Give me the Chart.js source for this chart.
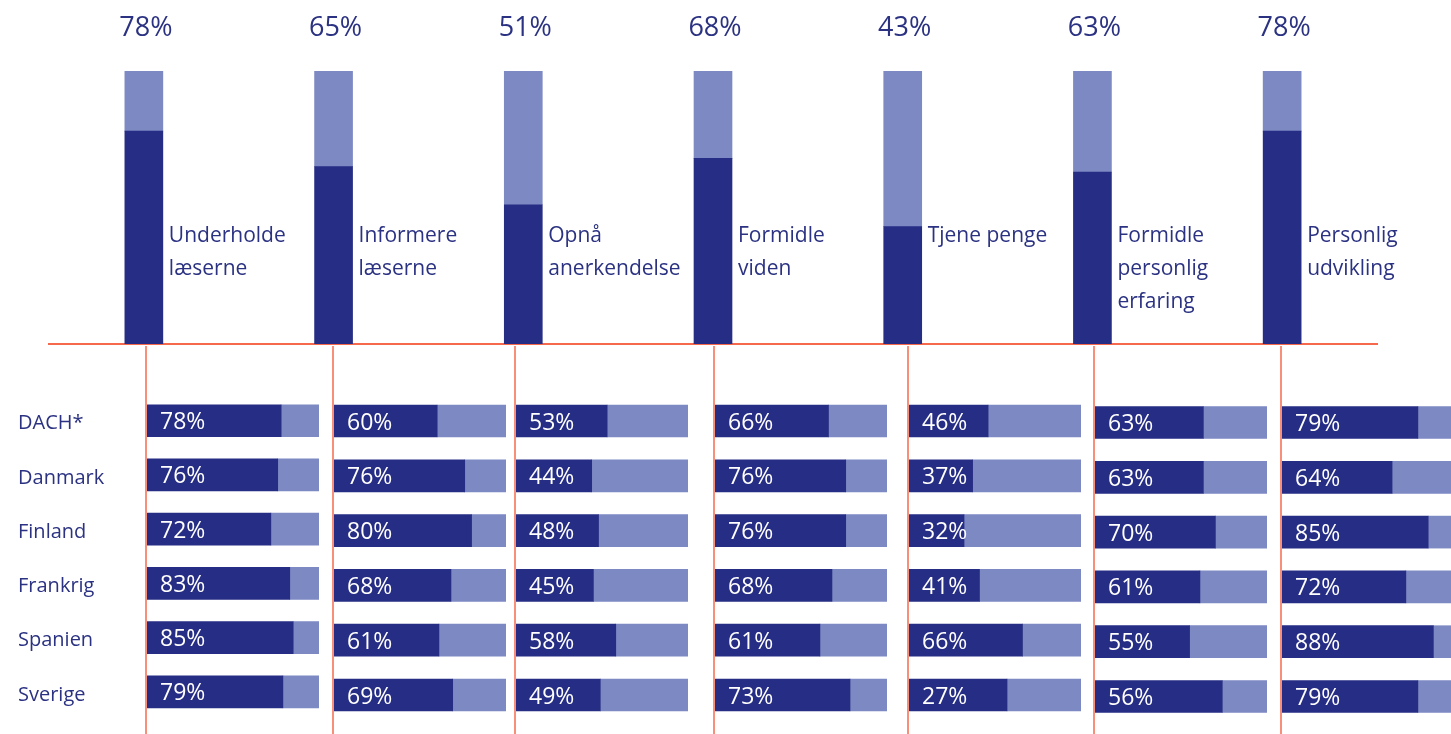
<!DOCTYPE html>
<html>
<head>
<meta charset="utf-8">
<script src="https://cdn.jsdelivr.net/npm/chart.js@4.4.1/dist/chart.umd.min.js"></script>
<style>
  html, body { margin: 0; padding: 0; background: #fff; overflow: hidden; }
  #wrap { position: relative; width: 1451px; height: 734px; }
  canvas { position: absolute; }
</style>
</head>
<body>
<div id="wrap">
  <canvas id="top" width="1451" height="346" style="left:0;top:0"></canvas>
</div>
<script>
// --- data ---
const topics = [
    ["Underholde", "læserne"],
    ["Informere", "læserne"],
    ["Opnå", "anerkendelse"],
    ["Formidle", "viden"],
    ["Tjene penge"],
    ["Formidle", "personlig", "erfaring"],
    ["Personlig", "udvikling"]
];
const totalShare = [78, 65, 51, 68, 43, 63, 78];

const countries = ["DACH*", "Danmark", "Finland", "Frankrig", "Spanien", "Sverige"];
const underholde = [78, 76, 72, 83, 85, 79];
const informere = [60, 76, 80, 68, 61, 69];
const opnaa = [53, 44, 48, 45, 58, 49];
const formidleViden = [66, 76, 76, 68, 61, 73];
const tjenePenge = [46, 37, 32, 41, 66, 27];
const formidleErfaring = [63, 63, 70, 61, 55, 56];
const personligUdvikling = [79, 64, 85, 72, 88, 79];

// in the original a few dark bars are drawn longer than the printed number
const formidleVidenBars = [66, 76, 76, 68, 61, 78.5];
const tjenePengeBars = [46, 37, 32, 41, 66, 57];
const formidleErfaringBars = [63, 63, 70, 61, 55, 74];

const columns = [
    { labels: underholde, bars: underholde },
    { labels: informere, bars: informere },
    { labels: opnaa, bars: opnaa },
    { labels: formidleViden, bars: formidleVidenBars },
    { labels: tjenePenge, bars: tjenePengeBars },
    { labels: formidleErfaring, bars: formidleErfaringBars },
    { labels: personligUdvikling, bars: personligUdvikling }
];

// --- styles ---
const DARK = "#262d84";
const LIGHT = "#7d89c3";
const TEXT = "#2b3282";
const RULE = "#f7694c";
const FONT = "'Open Sans', sans-serif";

// --- top chart: stacked columns ---
const topLabels = {
    id: "topLabels",
    afterDatasetsDraw(chart) {
        const ctx = chart.ctx;
        const area = chart.chartArea;
        const meta = chart.getDatasetMeta(0);
        ctx.save();
        ctx.fillStyle = TEXT;
        meta.data.forEach((bar, i) => {
            // percentage above the column
            ctx.font = "27px " + FONT;
            ctx.textAlign = "center";
            ctx.textBaseline = "middle";
            ctx.fillText(totalShare[i] + "%", bar.x + 2, area.top - 43);
            // topic name next to the column
            ctx.font = "21px " + FONT;
            ctx.textAlign = "left";
            ctx.textBaseline = "alphabetic";
            chart.data.labels[i].forEach((line, k) => {
                ctx.fillText(line, bar.x + bar.width / 2 + 6, area.bottom - 102 + k * 33);
            });
        });
        ctx.restore();
    }
};

new Chart(document.getElementById("top"), {
    type: "bar",
    data: {
        labels: topics,
        datasets: [
            { data: totalShare, backgroundColor: DARK, barThickness: 38 },
            { data: totalShare.map(v => 100 - v), backgroundColor: LIGHT, barThickness: 38 }
        ]
    },
    options: {
        responsive: false,
        animation: false,
        layout: { padding: { left: 49, right: 74, top: 71, bottom: 2 } },
        plugins: { legend: { display: false }, tooltip: { enabled: false } },
        scales: {
            x: {
                stacked: true,
                grid: { display: false, drawTicks: false },
                ticks: { display: false },
                border: { color: RULE, width: 2 }
            },
            y: { stacked: true, display: false, min: 0, max: 100 }
        }
    },
    plugins: [topLabels]
});

// --- bottom charts: one per topic, countries as rows ---
const colStart = [147, 334, 516, 715, 909, 1095, 1282];
const COL_W = 172;

const leftRule = {
    id: "leftRule",
    beforeDatasetsDraw(chart) {
        const ctx = chart.ctx;
        const x = chart.chartArea.left - 1;
        ctx.save();
        ctx.strokeStyle = RULE;
        ctx.lineWidth = 1.5;
        ctx.beginPath();
        ctx.moveTo(x, 0);
        ctx.lineTo(x, chart.height);
        ctx.stroke();
        ctx.restore();
    }
};

const insideLabels = {
    id: "insideLabels",
    afterDatasetsDraw(chart) {
        const ctx = chart.ctx;
        const printed = chart.options.plugins.insideLabels.values;
        ctx.save();
        ctx.fillStyle = "#ffffff";
        ctx.font = "23px " + FONT;
        ctx.textAlign = "left";
        ctx.textBaseline = "middle";
        chart.getDatasetMeta(0).data.forEach((bar, j) => {
            ctx.fillText(printed[j] + "%", bar.base + 13, bar.y + 2);
        });
        ctx.restore();
    }
};

const wrap = document.getElementById("wrap");
columns.forEach((col, i) => {
    const first = i === 0;
    const left = first ? 0 : colStart[i] - 4;
    const padLeft = first ? 18 : 4;
    const width = colStart[i] - left + COL_W + 2;
    const shift = i >= 5 ? 1.5 : 0;

    const cv = document.createElement("canvas");
    cv.width = width;
    cv.height = 388;
    cv.style.left = left + "px";
    cv.style.top = "346px";
    wrap.appendChild(cv);

    new Chart(cv, {
        type: "bar",
        data: {
            labels: countries,
            datasets: [
                { data: col.bars, backgroundColor: DARK, barThickness: 32 },
                { data: col.bars.map(v => 100 - v), backgroundColor: LIGHT, barThickness: 32 }
            ]
        },
        options: {
            indexAxis: "y",
            responsive: false,
            animation: false,
            layout: { padding: { left: padLeft, right: 2, top: 47.6 + shift, bottom: 11.6 - shift } },
            plugins: {
                legend: { display: false },
                tooltip: { enabled: false },
                insideLabels: { values: col.labels }
            },
            scales: {
                x: { stacked: true, display: false, min: 0, max: 100 },
                y: {
                    stacked: true,
                    display: first,
                    grid: { display: false, drawTicks: false },
                    border: { display: false },
                    ticks: {
                        crossAlign: "far",
                        labelOffset: 3,
                        color: TEXT,
                        font: { family: FONT, size: 20 }
                    },
                    afterFit: scale => { if (first) scale.width = colStart[0] - padLeft; }
                }
            }
        },
        plugins: [leftRule, insideLabels]
    });
});
</script>
</body>
</html>
